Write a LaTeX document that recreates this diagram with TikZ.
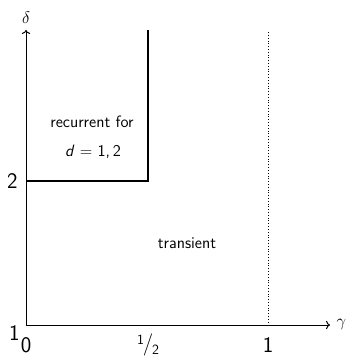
\documentclass[tikz,border=0pt]{standalone}
\usepackage{amsmath}
\usetikzlibrary{arrows.meta,positioning}
\renewcommand{\familydefault}{\sfdefault}

\begin{document}
\begin{tikzpicture}[x=0.03cm,y=0.03cm,
  axis/.style={->, thick},
  bound/.style={very thick},
  ticklbl/.style={font=\fontsize{19}{22}\selectfont, inner sep=1pt},
  regionlbl/.style={font=\fontsize{14}{17}\selectfont, align=center}
]
\useasboundingbox (-26,-33) rectangle (322,325);

% Axes
\coordinate (o)  at (0,0);
\coordinate (xe) at (304,0);
\coordinate (ye) at (0,295);
\draw[axis] (o) -- (xe) node[right=2pt, font=\Large] (gam) {$\gamma$};
\draw[axis] (o) -- (ye) node[above=2pt, font=\Large] (del) {$\delta$};

% Boundary of the recurrent region
\coordinate (lt) at (0,144);
\coordinate (hc) at (122,144);
\coordinate (ht) at (122,295);
\draw[bound] (lt) -- (hc) -- (ht);

% Dotted line at gamma = 1
\coordinate (ob) at (242,0);
\coordinate (ot) at (242,295);
\draw[dotted] (ob) -- (ot);

% Tick labels
\node[ticklbl, anchor=north east] (y1) at (-5,1) {1};
\node[ticklbl] (x0) at (0,-20) {0};
\node[ticklbl, left=6pt] (y2) at (lt) {2};
\node[ticklbl] (xh) at (122,-20)
  {\raisebox{5pt}{\large 1}\hspace{-1pt}/\hspace{-1pt}\raisebox{-3pt}{\large 2}};
\node[ticklbl] (x1) at (242,-20) {1};

% Region labels
\node[regionlbl] (rec) at (66,203) {recurrent for};
\node[regionlbl] (dd)  at (67,173) {\textit{d} = 1,\,2};
\node[regionlbl] (tra) at (161,82) {transient};
\end{tikzpicture}
\end{document}
